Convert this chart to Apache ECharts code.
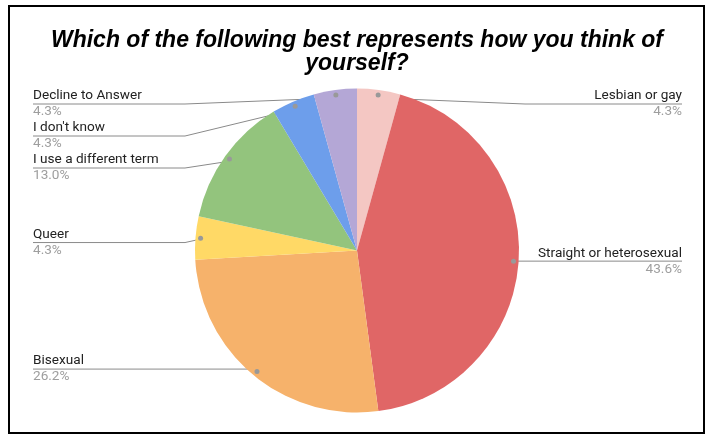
<!DOCTYPE html>
<html>
<head>
<meta charset="utf-8">
<title>Sexual orientation survey</title>
<script src="https://cdn.jsdelivr.net/npm/echarts@6/dist/echarts.min.js"></script>
<style>
  html, body { margin: 0; padding: 0; background: #fff; }
  #chart { width: 714px; height: 435px; }
</style>
</head>
<body>
<div id="chart"></div>
<script>
// Survey answers, clockwise from twelve o'clock
const categories = [
  'Lesbian or gay',
  'Straight or heterosexual',
  'Bisexual',
  'Queer',
  'I use a different term',
  "I don't know",
  'Decline to Answer'
];
const shares = [4.3, 43.6, 26.2, 4.3, 13.0, 4.3, 4.3];
const palette = ['#f4c7c3', '#e06666', '#f6b26b', '#ffd966', '#93c47d', '#6d9eeb', '#b4a7d6'];

const titleText = 'Which of the following best represents how you think of\nyourself?';

// Pie geometry (pixels)
const BOX = { left: 33, right: 32, top: 88, bottom: 0 };
const CX = 357, CY = 250.5, R = 162;
const center = [CX - BOX.left, CY - BOX.top];

const pieData = categories.map((name, i) => ({ name, value: shares[i] }));

const chart = echarts.init(document.getElementById('chart'), null, { renderer: 'canvas' });

const common = {
  type: 'pie',
  left: BOX.left, right: BOX.right, top: BOX.top, bottom: BOX.bottom,
  center: center,
  startAngle: 90,
  clockwise: true,
  data: pieData,
  animation: false,
  emphasis: { disabled: true }
};

chart.setOption({
  animation: false,
  title: {
    text: titleText,
    left: 'center',
    top: 24,
    textStyle: {
      fontFamily: 'Liberation Sans',
      fontSize: 23,
      fontWeight: 'bold',
      fontStyle: 'italic',
      color: '#000',
      lineHeight: 23
    }
  },
  graphic: [{
    type: 'rect',
    shape: { x: 9, y: 6, width: 695, height: 427 },
    style: { fill: 'none', stroke: '#000', lineWidth: 2 },
    silent: true,
    z: 100
  }],
  series: [
    // coloured slices
    Object.assign({}, common, {
      radius: [0, R],
      itemStyle: { color: p => palette[p.dataIndex], borderWidth: 0 },
      label: { show: false },
      labelLine: { show: false }
    }),
    // callout labels with leader lines
    Object.assign({}, common, {
      radius: [0, R * 0.95],
      silent: true,
      itemStyle: { color: 'rgba(0,0,0,0)' },
      avoidLabelOverlap: true,
      label: {
        show: true,
        position: 'outer',
        alignTo: 'edge',
        edgeDistance: 0,
        distanceToLabelLine: 0,
        formatter: p => '{n|' + p.name + '}\n{v|' + p.value.toFixed(1) + '%}',
        rich: {
          n: { fontFamily: 'Roboto', fontSize: 13.6, color: '#222', lineHeight: 16 },
          v: { fontFamily: 'Roboto', fontSize: 13.6, color: '#9e9e9e', lineHeight: 16 }
        }
      },
      labelLine: {
        show: true,
        length: 0,
        length2: 0,
        smooth: false,
        lineStyle: { color: '#8a8a8a', width: 1 }
      },
      // leader line: anchor dot -> elbow beside the pie -> under the whole label
      labelLayout: function (params) {
        const pts = params.labelLinePoints;
        if (!pts) return {};
        const r = params.labelRect;
        const onLeft = r.x + r.width / 2 < CX;
        const y = pts[2][1];
        const p0 = pts[0];
        const elbowX = onLeft ? Math.min(p0[0], CX - R - 10) : Math.max(p0[0], CX + R + 6);
        const farX = onLeft ? r.x : r.x + r.width;
        return { labelLinePoints: [p0, [elbowX, y], [farX, y]] };
      }
    }),
    // anchor dots at the start of each leader line
    Object.assign({}, common, {
      radius: [R * 0.9, R],
      silent: true,
      itemStyle: { color: 'rgba(0,0,0,0)' },
      label: {
        show: true,
        position: 'inside',
        formatter: ' ',
        width: 5,
        height: 5,
        padding: 0,
        fontSize: 5,
        lineHeight: 5,
        backgroundColor: '#999',
        borderRadius: 2.5
      },
      labelLine: { show: false }
    })
  ]
});
</script>
</body>
</html>
